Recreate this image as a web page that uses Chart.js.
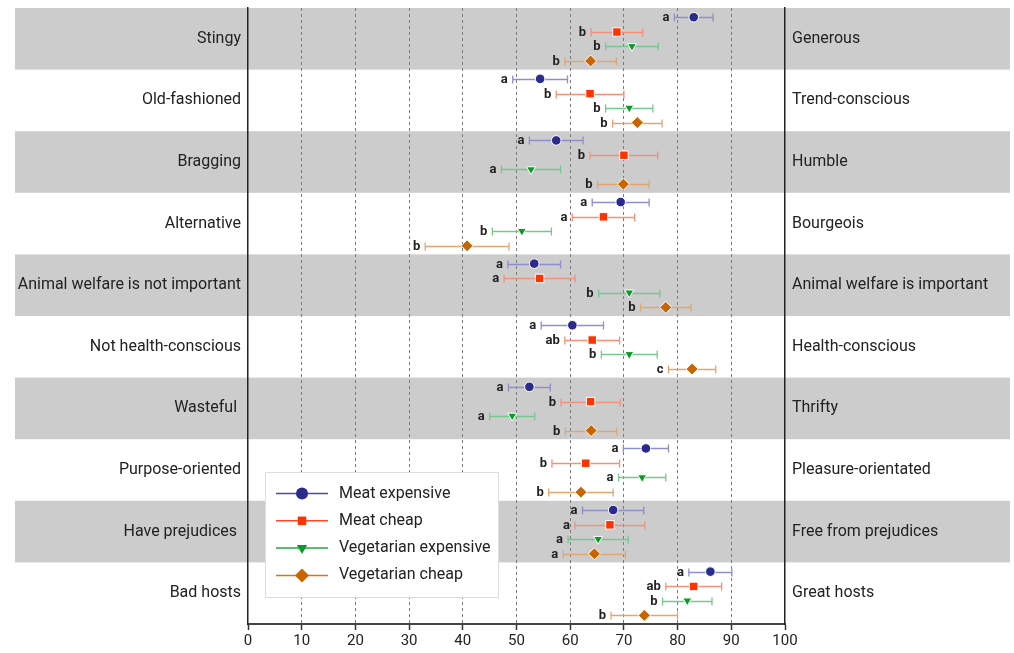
<!DOCTYPE html>
<html>
<head>
<meta charset="utf-8">
<script src="https://cdn.jsdelivr.net/npm/chart.js@4"></script>
<style>
html, body { margin: 0; padding: 0; background: #fff; }
</style>
</head>
<body>
<canvas id="chart" width="1014" height="653"></canvas>
<script>
// categories (left / right poles)
const leftLabels = ['Stingy', 'Old-fashioned', 'Bragging', 'Alternative', 'Animal welfare is not important',
    'Not health-conscious', 'Wasteful ', 'Purpose-oriented', 'Have prejudices ', 'Bad hosts'];
const rightLabels = ['Generous', 'Trend-conscious', 'Humble', 'Bourgeois', 'Animal welfare is important',
    'Health-conscious', 'Thrifty', 'Pleasure-orientated', 'Free from prejudices', 'Great hosts'];
const xTicks = [0, 10, 20, 30, 40, 50, 60, 70, 80, 90, 100];

// series: mean, error (half width), significance letters
const meatExpMean = [83.0, 54.4, 57.4, 69.4, 53.3, 60.4, 52.4, 74.1, 68.0, 86.1];
const meatExpErr = [3.6, 5.1, 5.0, 5.3, 4.9, 5.8, 3.9, 4.2, 5.7, 4.0];
const meatExpLetters = ['a', 'a', 'a', 'a', 'a', 'a', 'a', 'a', 'a', 'a'];

const meatCheapMean = [68.7, 63.7, 70.0, 66.2, 54.3, 64.1, 63.8, 62.9, 67.4, 83.0];
const meatCheapErr = [4.8, 6.3, 6.3, 5.8, 6.6, 5.1, 5.5, 6.3, 6.5, 5.2];
const meatCheapLetters = ['b', 'b', 'b', 'a', 'a', 'ab', 'b', 'b', 'a', 'ab'];

const vegExpMean = [71.5, 71.0, 52.7, 51.0, 71.0, 71.0, 49.2, 73.4, 65.2, 81.8];
const vegExpErr = [4.9, 4.4, 5.5, 5.5, 5.7, 5.2, 4.2, 4.4, 5.6, 4.6];
const vegExpLetters = ['b', 'b', 'a', 'b', 'b', 'b', 'a', 'a', 'a', 'b'];

const vegCheapMean = [63.8, 72.5, 69.9, 40.8, 77.8, 82.7, 63.9, 62.0, 64.5, 73.8];
const vegCheapErr = [4.8, 4.6, 4.8, 7.8, 4.7, 4.4, 4.8, 6.0, 5.8, 6.2];
const vegCheapLetters = ['b', 'b', 'b', 'b', 'b', 'c', 'b', 'b', 'a', 'b'];

const rowOffset = [-0.35, -0.11, 0.12, 0.36];

Chart.defaults.font.family = 'Roboto, "DejaVu Sans", sans-serif';
Chart.defaults.color = '#222';

const toPoints = (means, k) => means.map((v, i) => ({ x: v, y: i + rowOffset[k] }));

// grey bands behind every other category
const bands = {
    id: 'bands',
    beforeDraw(chart) {
        const { ctx, scales: { y } } = chart;
        ctx.save();
        ctx.fillStyle = '#cccccc';
        leftLabels.forEach((l, i) => {
            if (i % 2) return;
            const t = y.getPixelForValue(i - 0.5);
            const b = y.getPixelForValue(i + 0.5);
            ctx.fillRect(15, Math.min(t, b), 995, Math.abs(b - t));
        });
        ctx.restore();
    }
};

// error bars + letters
const errorBars = {
    id: 'errorBars',
    beforeDatasetsDraw(chart) {
        const { ctx, scales: { x, y } } = chart;
        ctx.save();
        chart.data.datasets.forEach(ds => {
            ds.data.forEach((p, i) => {
                const yp = Math.round(y.getPixelForValue(p.y)) + 0.5;
                const x1 = x.getPixelForValue(p.x - ds.errors[i]);
                const x2 = x.getPixelForValue(p.x + ds.errors[i]);
                ctx.strokeStyle = ds.errorColor;
                ctx.lineWidth = 1.3;
                ctx.beginPath();
                ctx.moveTo(x1, yp); ctx.lineTo(x2, yp);
                ctx.moveTo(x1, yp - 4); ctx.lineTo(x1, yp + 4);
                ctx.moveTo(x2, yp - 4); ctx.lineTo(x2, yp + 4);
                ctx.stroke();
                ctx.fillStyle = '#222';
                ctx.font = 'bold 13px Roboto';
                ctx.textAlign = 'right';
                ctx.textBaseline = 'middle';
                ctx.fillText(ds.letters[i], x1 - 5, yp);
            });
        });
        ctx.restore();
    }
};

// boxed legend inside the plot
const boxLegend = {
    id: 'boxLegend',
    afterDraw(chart) {
        const { ctx } = chart;
        ctx.save();
        ctx.fillStyle = '#fff';
        ctx.strokeStyle = '#dddddd';
        ctx.lineWidth = 1;
        ctx.fillRect(265.5, 472.5, 233, 125);
        ctx.strokeRect(265.5, 472.5, 233, 125);
        chart.data.datasets.forEach((ds, k) => {
            const yy = 493.5 + k * 27.3;
            ctx.strokeStyle = ds.legendLine;
            ctx.lineWidth = 1.5;
            ctx.beginPath();
            ctx.moveTo(276, yy); ctx.lineTo(328, yy);
            ctx.stroke();
            ctx.fillStyle = ds.backgroundColor;
            ctx.strokeStyle = ds.backgroundColor;
            Chart.helpers.drawPoint(ctx, {
                pointStyle: ds.pointStyle, rotation: ds.rotation || 0,
                radius: ds.pointStyle === 'rectRot' ? 7 : 6, borderWidth: 0
            }, 302, yy);
            ctx.fillStyle = '#222';
            ctx.font = '16px Roboto';
            ctx.textAlign = 'left';
            ctx.textBaseline = 'middle';
            ctx.fillText(ds.label, 339, yy);
        });
        ctx.restore();
    }
};

const catTicks = s => { s.ticks = leftLabels.map((l, i) => ({ value: i })); };
const fitY = w => s => { s.width = w; s.paddingTop = 0; s.paddingBottom = 0; };

new Chart(document.getElementById('chart'), {
    type: 'scatter',
    data: {
        datasets: [{
            label: 'Meat expensive',
            data: toPoints(meatExpMean, 0),
            errors: meatExpErr, letters: meatExpLetters,
            pointStyle: 'circle', pointRadius: 4.8,
            backgroundColor: '#2b2b8c', borderColor: '#ffffff', pointBorderWidth: 1,
            errorColor: '#8e8ec8', legendLine: '#4a4aa8'
        }, {
            label: 'Meat cheap',
            data: toPoints(meatCheapMean, 1),
            errors: meatCheapErr, letters: meatCheapLetters,
            pointStyle: 'rect', pointRadius: 6,
            backgroundColor: '#ff3300', borderColor: '#ffffff', pointBorderWidth: 1,
            errorColor: '#f3907c', legendLine: '#ff4a2a'
        }, {
            label: 'Vegetarian expensive',
            data: toPoints(vegExpMean, 2),
            errors: vegExpErr, letters: vegExpLetters,
            pointStyle: 'triangle', rotation: 180, pointRotation: 180, pointRadius: 5.2,
            backgroundColor: '#0a9a2a', borderColor: '#ffffff', pointBorderWidth: 1,
            errorColor: '#78c690', legendLine: '#22a844'
        }, {
            label: 'Vegetarian cheap',
            data: toPoints(vegCheapMean, 3),
            errors: vegCheapErr, letters: vegCheapLetters,
            pointStyle: 'rectRot', pointRadius: 6,
            backgroundColor: '#c96500', borderColor: '#ffffff', pointBorderWidth: 1,
            errorColor: '#e0a672', legendLine: '#d87420'
        }]
    },
    options: {
        responsive: false,
        animation: false,
        events: [],
        layout: { padding: { top: 8, left: 0, right: 0, bottom: 0 } },
        plugins: { legend: { display: false }, tooltip: { enabled: false } },
        scales: {
            x: {
                type: 'linear', position: 'bottom', min: 0, max: 100,
                afterBuildTicks: s => { s.ticks = xTicks.map(v => ({ value: v })); },
                afterFit: s => { s.height = 29; },
                ticks: { color: '#222', font: { size: 15 }, padding: 2, maxRotation: 0 },
                grid: {
                    color: c => (c.tick && (c.tick.value === 0 || c.tick.value === 100)) ? 'rgba(0,0,0,0)' : '#7a7a7a',
                    lineWidth: 1, tickColor: '#333', tickLength: 6, tickWidth: 1.5
                },
                border: { color: '#444', width: 2, dash: [3, 3] }
            },
            y: {
                type: 'linear', position: 'left', min: -0.5, max: 9.5, reverse: true,
                afterBuildTicks: catTicks,
                afterFit: fitY(248),
                ticks: { callback: v => leftLabels[v], autoSkip: false, color: '#222', font: { size: 16 }, padding: 7 },
                grid: { display: false, drawTicks: false, tickLength: 0 },
                border: { color: '#222', width: 1.5 }
            },
            y2: {
                type: 'linear', position: 'right', min: -0.5, max: 9.5, reverse: true,
                afterBuildTicks: catTicks,
                afterFit: fitY(229),
                ticks: { callback: v => rightLabels[v], autoSkip: false, color: '#222', font: { size: 16 }, padding: 7 },
                grid: { display: false, drawTicks: false, tickLength: 0 },
                border: { color: '#222', width: 1.5 }
            }
        }
    },
    plugins: [bands, errorBars, boxLegend]
});
</script>
</body>
</html>
